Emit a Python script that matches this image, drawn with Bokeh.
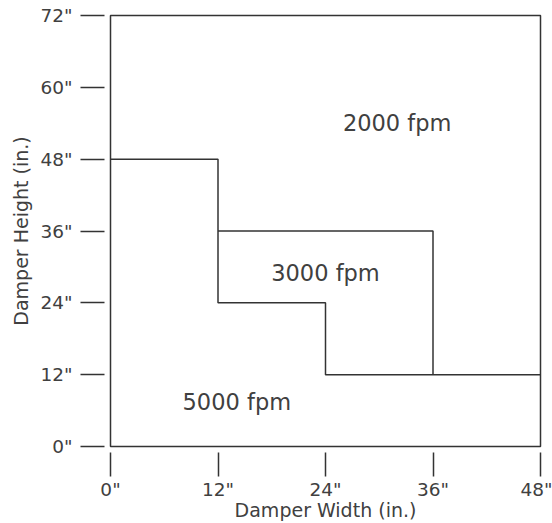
from bokeh.plotting import figure
from bokeh.models import FixedTicker, Range1d
from bokeh.core.properties import value
from bokeh.embed import file_html
from bokeh.resources import INLINE

# Data
x_ticks = [0, 12, 24, 36, 48]
y_ticks = [0, 12, 24, 36, 48, 60, 72]
x_tick_labels = ['0"', '12"', '24"', '36"', '48"']
y_tick_labels = ['0"', '12"', '24"', '36"', '48"', '60"', '72"']

# boundary between 5000 fpm and faster/slower zones
b5000_x = [0, 12, 12, 24, 24, 48]
b5000_y = [48, 48, 24, 24, 12, 12]
# boundary of 3000 fpm zone
b3000_x = [12, 36, 36]
b3000_y = [36, 36, 12]

zone_labels = ["2000 fpm", "3000 fpm", "5000 fpm"]
zone_x = [32, 24, 14.1]
zone_y = [54, 29, 7.4]

FONT = "DejaVu Sans"
INK = "#333333"
TXT = "#404040"

p = figure(width=552, height=523, output_backend="svg", toolbar_location=None,
           x_range=Range1d(0, 48), y_range=Range1d(0, 72),
           min_border_left=110, min_border_right=12, min_border_top=15, min_border_bottom=10,
           x_axis_label="Damper Width (in.)", y_axis_label="Damper Height (in.)")
p.grid.visible = False
p.outline_line_color = INK
p.outline_line_width = 1.5
p.background_fill_color = "white"
p.border_fill_color = "white"

p.xaxis.ticker = FixedTicker(ticks=x_ticks)
p.yaxis.ticker = FixedTicker(ticks=y_ticks)
p.xaxis.major_label_overrides = dict(zip(x_ticks, x_tick_labels))
p.yaxis.major_label_overrides = dict(zip(y_ticks, y_tick_labels))

for ax in (p.xaxis, p.yaxis):
    ax.axis_line_color = None
    ax.minor_tick_line_color = None
    ax.major_tick_in = -6
    ax.major_tick_out = 30
    ax.major_tick_line_color = INK
    ax.major_tick_line_width = 1.5
    ax.major_label_text_font = FONT
    ax.major_label_text_font_size = "18.5px"
    ax.major_label_text_color = TXT
    ax.axis_label_text_font = FONT
    ax.axis_label_text_font_size = "19px"
    ax.axis_label_text_font_style = "normal"
    ax.axis_label_text_color = TXT

p.xaxis.major_label_standoff = 2
p.xaxis.axis_label_standoff = -4
p.yaxis.major_label_standoff = 8
p.yaxis.axis_label_standoff = 5

p.line(b5000_x, b5000_y, line_color=INK, line_width=1.5)
p.line(b3000_x, b3000_y, line_color=INK, line_width=1.5)

p.text(x=zone_x, y=zone_y, text=zone_labels, text_font=value(FONT),
       text_font_size="22.5px", text_color=TXT, text_align="center", text_baseline="middle")

open("out.html", "w").write(file_html(p, INLINE))
